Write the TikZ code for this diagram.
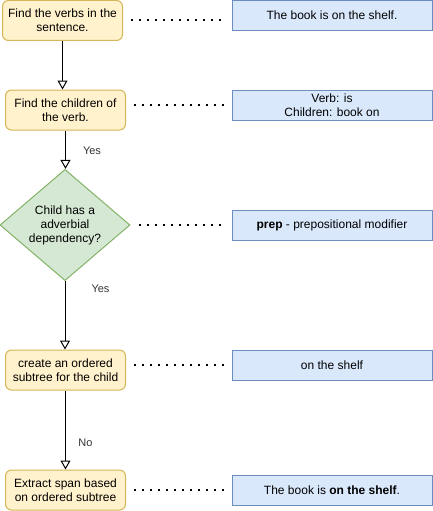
\documentclass[tikz,border=0pt]{standalone}
\usepackage{fontspec}
\setmainfont{Liberation Sans}
\usetikzlibrary{arrows.meta,shapes.geometric}
\definecolor{yfill}{HTML}{FFF2CC}
\definecolor{ydraw}{HTML}{D6B656}
\definecolor{gfill}{HTML}{D5E8D4}
\definecolor{gdraw}{HTML}{82B366}
\definecolor{bfill}{HTML}{DAE8FC}
\definecolor{bdraw}{HTML}{6C8EBF}
\definecolor{lbl}{HTML}{333333}
\begin{document}
\begin{tikzpicture}[x=1pt,y=-1pt,
  every node/.style={font=\fontsize{12}{14}\selectfont, text=black},
  stepbox/.style={draw=ydraw, fill=yfill, line width=1pt, rounded corners=6pt,
    minimum width=120pt, minimum height=40pt, align=center, inner sep=0pt},
  infobox/.style={draw=bdraw, fill=bfill, line width=1pt,
    minimum width=200pt, minimum height=30pt, align=center, inner sep=0pt},
  decbox/.style={draw=gdraw, fill=gfill, line width=1pt, diamond,
    minimum width=130pt, minimum height=110pt, align=center, inner sep=0pt},
  flow/.style={draw=black, line width=1pt, -{Triangle[open, length=9pt, width=10pt]}},
  dots/.style={draw=black, line width=2pt, dash pattern=on 2pt off 6pt, shorten <=8pt, shorten >=8pt},
  elabel/.style={font=\fontsize{11}{13}\selectfont, text=lbl, inner sep=0pt}
]
\useasboundingbox (0,0) rectangle (433,511);

% left column
\node[stepbox] (b1) at (62.5,20.5) {Find the verbs in the\\sentence.};
\node[stepbox] (b2) at (65.5,110) {Find the children of\\the verb.};
\node[decbox] (d) at (65,225) {Child has a\\adverbial\\dependency?};
\node[stepbox] (b4) at (65.5,370) {create an ordered\\subtree for the child};
\node[stepbox] (b5) at (65.5,490) {Extract span based\\on ordered subtree};

% right column
\node[infobox] (r1) at (332,15.5) {The book is on the shelf.};
\node[infobox] (r2) at (332,105) {Verb: is\\Children: book on};
\node[infobox] (r3) at (332,225) {\textbf{prep} - prepositional modifier};
\node[infobox] (r4) at (332,365) {on the shelf};
\node[infobox] (r5) at (332,490) {The book is \textbf{on the shelf}.};

% flow arrows
\draw[flow] (b1.south) -- (b1.south |- b2.north);
\draw[flow] (b2.south) -- (b2.south |- d.north);
\draw[flow] (d.south) -- (d.south |- b4.north);
\draw[flow] (b4.south) -- (b5.north);

% labels
\node[elabel] (y1) at (92,151) {Yes};
\node[elabel] (y2) at (100.5,289) {Yes};
\node[elabel] (n1) at (85.5,443) {No};

% dotted connectors
\draw[dots] (b1.east) -- (b1.east -| r1.west);
\draw[dots] (b2.east |- r2.west) -- (r2.west);
\draw[dots] (d.east) -- (r3.west);
\draw[dots] (b4.east |- r4.west) -- (r4.west);
\draw[dots] (b5.east |- r5.west) -- (r5.west);
\end{tikzpicture}
\end{document}
